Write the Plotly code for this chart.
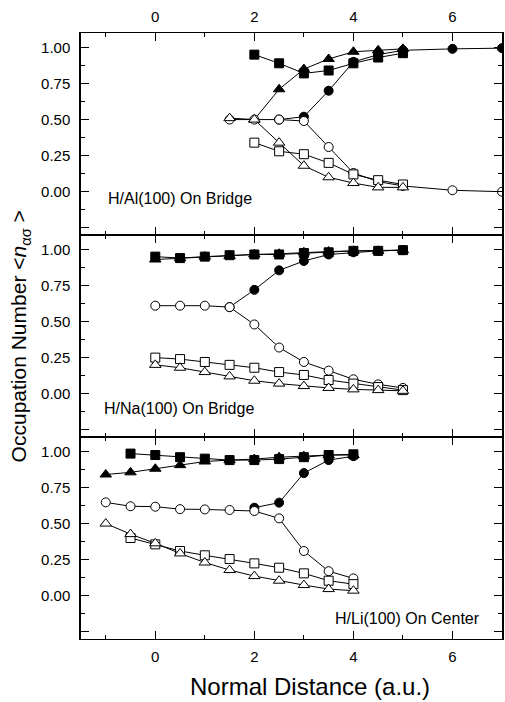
import plotly.graph_objects as go
from plotly.subplots import make_subplots

# ---------------- data ----------------
# Panel 1: H/Al(100) On Bridge
al_fsq_x = [2, 2.5, 3, 3.5, 4, 4.5, 5]
al_fsq_y = [0.95, 0.89, 0.82, 0.84, 0.89, 0.93, 0.96]
al_ftr_x = [2, 2.5, 3, 3.5, 4, 4.5, 5]
al_ftr_y = [0.50, 0.71, 0.85, 0.92, 0.97, 0.98, 0.99]
al_fci_x = [2.5, 3, 3.5, 4, 4.5, 5, 6, 7]
al_fci_y = [0.50, 0.52, 0.70, 0.90, 0.95, 0.98, 0.99, 0.995]
al_oci_x = [1.5, 2, 2.5, 3, 3.5, 4, 4.5, 5, 6, 7]
al_oci_y = [0.50, 0.50, 0.50, 0.49, 0.31, 0.13, 0.07, 0.04, 0.01, 0.0]
al_osq_x = [2, 2.5, 3, 3.5, 4, 4.5, 5]
al_osq_y = [0.34, 0.28, 0.26, 0.20, 0.12, 0.08, 0.05]
al_otr_x = [1.5, 2, 2.5, 3, 3.5, 4, 4.5, 5]
al_otr_y = [0.51, 0.50, 0.34, 0.18, 0.10, 0.06, 0.03, 0.03]

# Panel 2: H/Na(100) On Bridge
na_x = [0, 0.5, 1, 1.5, 2, 2.5, 3, 3.5, 4, 4.5, 5]
na_fsq_y = [0.95, 0.94, 0.95, 0.96, 0.965, 0.965, 0.975, 0.98, 0.99, 0.99, 0.995]
na_ftr_y = [0.93, 0.94, 0.95, 0.955, 0.965, 0.97, 0.98, 0.985, 0.99, 0.99, 0.995]
na_fci_x = [1.5, 2, 2.5, 3, 3.5, 4, 4.5, 5]
na_fci_y = [0.60, 0.72, 0.855, 0.92, 0.965, 0.98, 0.99, 0.995]
na_oci_y = [0.61, 0.61, 0.61, 0.60, 0.48, 0.32, 0.22, 0.16, 0.10, 0.065, 0.04]
na_osq_y = [0.25, 0.24, 0.22, 0.20, 0.18, 0.15, 0.13, 0.095, 0.07, 0.046, 0.025]
na_otr_y = [0.20, 0.18, 0.15, 0.12, 0.09, 0.07, 0.053, 0.04, 0.03, 0.025, 0.02]

# Panel 3: H/Li(100) On Center
li_x = [-1, -0.5, 0, 0.5, 1, 1.5, 2, 2.5, 3, 3.5, 4]
li_fsq_x = [-0.5, 0, 0.5, 1, 1.5, 2, 2.5, 3, 3.5, 4]
li_fsq_y = [0.985, 0.975, 0.96, 0.95, 0.94, 0.94, 0.947, 0.96, 0.975, 0.98]
li_ftr_y = [0.84, 0.855, 0.88, 0.905, 0.93, 0.94, 0.947, 0.96, 0.967, 0.975, 0.975]
li_fci_x = [2, 2.5, 3, 3.5, 4]
li_fci_y = [0.61, 0.645, 0.85, 0.94, 0.967]
li_oci_y = [0.647, 0.62, 0.617, 0.60, 0.598, 0.594, 0.587, 0.536, 0.31, 0.17, 0.12]
li_osq_x = [-0.5, 0, 0.5, 1, 1.5, 2, 2.5, 3, 3.5, 4]
li_osq_y = [0.40, 0.356, 0.31, 0.28, 0.254, 0.224, 0.194, 0.155, 0.104, 0.08]
li_otr_y = [0.50, 0.427, 0.363, 0.293, 0.23, 0.178, 0.136, 0.104, 0.074, 0.046, 0.035]

panel_labels = ["H/Al(100) On Bridge", "H/Na(100) On Bridge", "H/Li(100) On Center"]
y_tickvals = [-0.25, 0, 0.25, 0.5, 0.75, 1.0]
y_ticktext = ["", "0.00", "0.25", "0.50", "0.75", "1.00"]
x_tickvals = [0, 2, 4, 6]
x_ticktext = ["0", "2", "4", "6"]

FONT = "Liberation Sans, Arial, Helvetica, sans-serif"

fig = make_subplots(rows=3, cols=1, vertical_spacing=0)


def add(row, x, y, symbol, filled, size=9):
    fig.add_trace(go.Scatter(
        x=x, y=y, mode="lines+markers",
        line=dict(color="black", width=1),
        marker=dict(symbol=symbol, size=size,
                    color="black" if filled else "white",
                    line=dict(color="black", width=1)),
        showlegend=False), row=row, col=1)


series = [
    (1, [(al_fsq_x, al_fsq_y, "square", True), (al_ftr_x, al_ftr_y, "triangle-up", True),
         (al_fci_x, al_fci_y, "circle", True), (al_oci_x, al_oci_y, "circle", False),
         (al_osq_x, al_osq_y, "square", False), (al_otr_x, al_otr_y, "triangle-up", False)]),
    (2, [(na_x, na_fsq_y, "square", True), (na_x, na_ftr_y, "triangle-up", True),
         (na_fci_x, na_fci_y, "circle", True), (na_x, na_oci_y, "circle", False),
         (na_x, na_osq_y, "square", False), (na_x, na_otr_y, "triangle-up", False)]),
    (3, [(li_fsq_x, li_fsq_y, "square", True), (li_x, li_ftr_y, "triangle-up", True),
         (li_fci_x, li_fci_y, "circle", True), (li_x, li_oci_y, "circle", False),
         (li_osq_x, li_osq_y, "square", False), (li_x, li_otr_y, "triangle-up", False)]),
]
for row, lst in series:
    for x, y, sym, filled in lst:
        add(row, x, y, sym, filled, size=10 if sym == "triangle-up" else 9)

tickfont = dict(family=FONT, size=15, color="black")
LW = 1
for row in (1, 2, 3):
    xa = dict(range=[-1.5, 7], showgrid=False, zeroline=False,
              showline=True, linecolor="black", linewidth=LW, mirror="ticks",
              ticks="inside", ticklen=8, tickwidth=1.2, tickcolor="black",
              tickvals=x_tickvals, ticktext=x_ticktext, tickfont=tickfont,
              ticklabelstandoff=4,
              minor=dict(tickvals=[-1, 1, 3, 5, 7], ticks="inside", ticklen=4,
                         tickwidth=1.2, tickcolor="black"))
    if row == 1:
        xa["side"] = "top"
    elif row == 2:
        xa["showticklabels"] = False
    fig.update_xaxes(row=row, col=1, **xa)
    fig.update_yaxes(row=row, col=1, range=[-0.3, 1.1], showgrid=False, zeroline=False,
                     showline=True, linecolor="black", linewidth=1.5, mirror="ticks",
                     ticks="inside", ticklen=8, tickwidth=1.2, tickcolor="black",
                     tickvals=y_tickvals, ticktext=y_ticktext, tickfont=tickfont,
                     ticklabelstandoff=6,
                     minor=dict(tickvals=[-0.125, 0.125, 0.375, 0.625, 0.875],
                                ticks="inside", ticklen=4, tickwidth=1.2,
                                tickcolor="black"))

annfont = dict(family=FONT, size=16, color="black")
fig.add_annotation(x=-1.0, y=-0.05, xref="x", yref="y", text=panel_labels[0],
                   showarrow=False, xanchor="left", yanchor="middle", font=annfont)
fig.add_annotation(x=-1.07, y=-0.10, xref="x2", yref="y2", text=panel_labels[1],
                   showarrow=False, xanchor="left", yanchor="middle", font=annfont)
fig.add_annotation(x=6.59, y=-0.16, xref="x3", yref="y3", text=panel_labels[2],
                   showarrow=False, xanchor="right", yanchor="middle", font=annfont)

titlefont = dict(family=FONT, size=24, color="black")
fig.add_annotation(x=0.545, y=-0.078, xref="paper", yref="paper",
                   text="Normal Distance (a.u.)", showarrow=False,
                   xanchor="center", yanchor="middle", font=titlefont)
fig.add_annotation(x=-0.144, y=0.5, xref="paper", yref="paper",
                   text="Occupation Number &lt;<i>n</i><sub>ασ</sub> &gt;",
                   showarrow=False, textangle=-90,
                   xanchor="center", yanchor="middle", font=dict(family=FONT, size=21, color="black"))

fig.update_layout(width=505, height=702,
                  margin=dict(l=81, r=1, t=33, b=63),
                  paper_bgcolor="white", plot_bgcolor="white",
                  font=dict(family=FONT, color="black"))

fig.write_html("out.html")
